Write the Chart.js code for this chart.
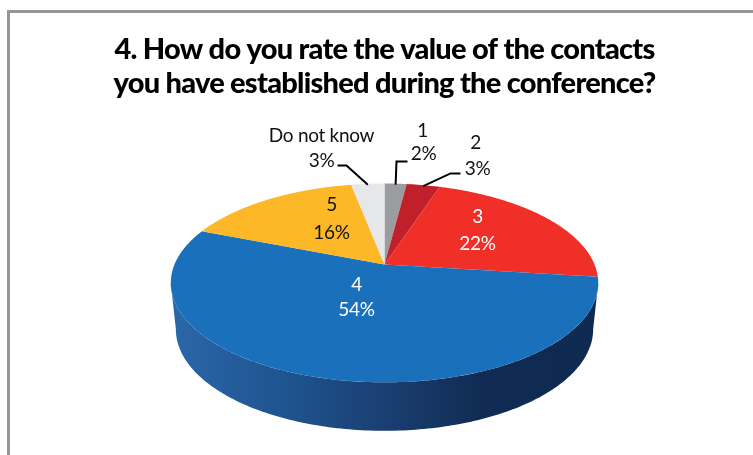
<!DOCTYPE html>
<html><head><meta charset="utf-8">
<script src="https://cdn.jsdelivr.net/npm/chart.js@4"></script>
<style>
html,body{margin:0;padding:0;background:#fff;width:753px;height:455px;overflow:hidden}
#frame{position:absolute;left:7px;top:10px;width:760px;height:460px;border:3px solid #969696;box-sizing:border-box}
#c{position:absolute;left:8px;top:0}
</style></head><body>
<div id="frame"></div>
<canvas id="c" width="753" height="455" style="width:753px;height:455px"></canvas>
<script>
const categories = ["1","2","3","4","5","Do not know"];
const shares = [2,3,22,54,16,3];
const sliceColors = ["#9a9ca0","#c0202a","#f02f28","#1b70bb","#fdb827","#e6e7e9"];
const textColors = ["#111","#111","#fff","#fff","#111","#111"];
const titleLines = ["4. How do you rate the value of the contacts","you have established during the conference?"];

// perspective of the tilted disc
const K = 0.186, TOP = {B:210,A:96,dy:0}, BOTTOM = {B:205,A:98,dy:46};
// label centres relative to the pie apex, and leader start / elbow
const labelPlace = [
 {n:[38,-134],p:[39,-111],elbow:[[23,-103],[12,-103]]},
 {n:[91,-122],p:[93,-96],elbow:[[76,-91],[66,-91]]},
 {n:[93,-48],p:[93,-21]},
 {n:[-28,20],p:[-28,45]},
 {n:[-53,-60],p:[-53,-32]},
 {n:[-63,-129],p:[-63,-104],elbow:[[-47,-99],[-38,-99]]}
];

function proj(ang,plane,cx,cy){
  // ang is the library's arc angle (0 = 3 o'clock); u right, w towards the back
  const u=Math.cos(ang), w=-Math.sin(ang), d=1+K*w;
  return [cx+plane.B*u/d, cy+plane.dy-plane.A*w/d];
}
function edge(ctx,a0,a1,plane,cx,cy,first){
  const n=Math.max(4,Math.ceil(Math.abs(a1-a0)*60));
  for(let i=0;i<=n;i++){
    const p=proj(a0+(a1-a0)*i/n,plane,cx,cy);
    (first&&i===0)?ctx.moveTo(p[0],p[1]):ctx.lineTo(p[0],p[1]);
  }
}
const pie3d={
  id:'pie3d',
  beforeDraw(chart){ chart.ctx.letterSpacing='-0.75px'; },
  beforeDatasetsDraw(chart){
    const ctx=chart.ctx, arcs=chart.getDatasetMeta(0).data;
    const bg=chart.data.datasets[0].backgroundColor;
    const limit=Math.asin(K);
    ctx.save();
    arcs.forEach((arc,i)=>{
      const cx=arc.x, cy=arc.y;
      // side wall: only the part facing the viewer, between the disc's widest points
      const s=Math.max(arc.startAngle,limit), e=Math.min(arc.endAngle,Math.PI-limit);
      if(e>s){
        const g=ctx.createLinearGradient(cx-210,0,cx+210,0);
        g.addColorStop(0,'#2b66a9');g.addColorStop(0.25,'#1f5590');g.addColorStop(0.5,'#1a3f72');
        g.addColorStop(0.72,'#102c54');g.addColorStop(1,'#0e2a50');
        ctx.beginPath();
        edge(ctx,s,e,TOP,cx,cy,true);
        edge(ctx,e,s,BOTTOM,cx,cy,false);
        ctx.closePath();
        ctx.fillStyle=g;ctx.fill();
      }
    });
    arcs.forEach((arc,i)=>{
      const cx=arc.x, cy=arc.y;
      ctx.beginPath();
      ctx.moveTo(cx,cy);
      edge(ctx,arc.startAngle,arc.endAngle,TOP,cx,cy,false);
      ctx.closePath();
      ctx.fillStyle=bg[i];ctx.fill();
    });
    // labels and leaders
    ctx.textAlign='center';ctx.textBaseline='middle';
    ctx.font='19px Lato';
    ctx.letterSpacing='-0.3px';
    arcs.forEach((arc,i)=>{
      const cx=arc.x, cy=arc.y, pl=labelPlace[i];
      if(pl.elbow){
        const mid=proj((arc.startAngle+arc.endAngle)/2,TOP,cx,cy);
        ctx.beginPath();
        ctx.moveTo(cx+pl.elbow[0][0],cy+pl.elbow[0][1]);
        ctx.lineTo(cx+pl.elbow[1][0],cy+pl.elbow[1][1]);
        ctx.lineTo(mid[0],mid[1]+1);
        ctx.strokeStyle='#000';ctx.lineWidth=2;ctx.stroke();
      }
      ctx.fillStyle=textColors[i];
      ctx.fillText(chart.data.labels[i],cx+pl.n[0],cy+pl.n[1]);
      ctx.fillText(chart.data.datasets[0].data[i]+'%',cx+pl.p[0],cy+pl.p[1]);
    });
    ctx.restore();
    return false;
  }
};
new Chart(document.getElementById('c'),{
  type:'pie',
  data:{labels:categories,datasets:[{data:shares,backgroundColor:sliceColors,borderWidth:0}]},
  plugins:[pie3d],
  options:{
    responsive:false,animation:false,rotation:0,
    layout:{padding:{bottom:27}},
    plugins:{
      legend:{display:false},tooltip:{enabled:false},
      title:{display:true,text:titleLines,color:'#000',
        font:{family:'Lato',size:29,weight:'900',lineHeight:1.17},
        padding:{top:33,bottom:0}}
    }
  }
});
</script>
</body></html>
